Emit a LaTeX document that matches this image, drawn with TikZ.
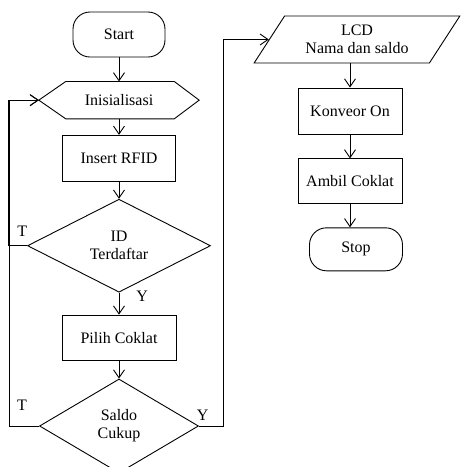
\documentclass[tikz,border=0pt]{standalone}
\usepackage{fontspec}
\setmainfont{Liberation Serif}
\usetikzlibrary{positioning, arrows.meta, shapes.geometric}

\begin{document}
\begin{tikzpicture}[
    x=1pt, y=1pt,
    every node/.style={font=\fontsize{16}{18}\selectfont},
    line/.style={line width=0.9pt},
    base/.style={draw, line, inner sep=0pt, align=center},
    term/.style={base, rounded corners=17pt, minimum width=92pt, minimum height=45pt},
    proc/.style={base, minimum width=113pt, minimum height=46pt},
    hexa/.style={inner sep=0pt, minimum width=160pt, minimum height=37pt},
    decision/.style={base, diamond, aspect=2},
    io/.style={base, trapezium, trapezium left angle=53, trapezium right angle=127,
               trapezium stretches=true, minimum width=206pt, minimum height=47pt},
    lbl/.style={inner sep=0pt},
    arrow/.style={line, -{Straight Barb[length=8pt, width=11pt]}},
]
\useasboundingbox (0,0) rectangle (461,-467);

% --- Left column ---
\node[term] at (119,-34.5)                (start) {Start};
\node[hexa,  below=24pt of start]         (ini)   {Inisialisasi};
\node[proc,  below=16pt of ini]           (rfid)  {Insert RFID};
\node[decision, below=17pt of rfid, minimum width=183pt, minimum height=93pt] (id) {ID\\ Terdaftar};
\node[proc,  below=22pt of id, minimum width=114pt, minimum height=45pt] (pilih) {Pilih Coklat};
\node[decision, below=18pt of pilih, minimum width=159pt, minimum height=94pt] (saldo) {Saldo\\ Cukup};

% hexagon outline for the preparation step
\draw[line] (ini.west) -- ([xshift=27pt]ini.north west) -- ([xshift=-25pt]ini.north east)
    -- (ini.east) -- ([xshift=-25pt]ini.south east) -- ([xshift=27pt]ini.south west) -- cycle;

% --- Right column ---
\node[io] at (357,-39.5)                  (lcd)   {LCD\\ Nama dan saldo};
\node[proc, minimum width=104pt] at (350,-111) (konv) {Konveor On};
\node[proc, minimum width=104pt, minimum height=45pt, below=24pt of konv] (ambil) {Ambil Coklat};
\node[term, minimum width=93pt, minimum height=43pt, below=23pt of ambil, xshift=6pt] (stop) {Stop};

% --- Arrows ---
\draw[arrow] (start) -- (ini);
\draw[arrow] (ini) -- (rfid);
\draw[arrow] (rfid) -- (id);
\draw[arrow] (id.south) -- node[lbl, pos=0.15, right=17pt] {Y} (pilih.north);
\draw[arrow] (pilih) -- (saldo);
\draw[arrow] (id.west) -- node[lbl, pos=0.25, above=9pt] {T} ++(-19,0) |- (ini.west);
\draw[arrow] (saldo.west) -- node[lbl, pos=0.57, above=15pt] {T} ++(-30,0) |- (ini.west);
\draw[arrow] (saldo.east) -- node[lbl, pos=0.15, above=5pt] {Y} ++(24,0) |- (lcd.west);
\draw[arrow] (lcd.south -| konv.north) -- (konv.north);
\draw[arrow] (konv) -- (ambil);
\draw[arrow] (ambil.south) -- (ambil.south |- stop.north);
\end{tikzpicture}
\end{document}
